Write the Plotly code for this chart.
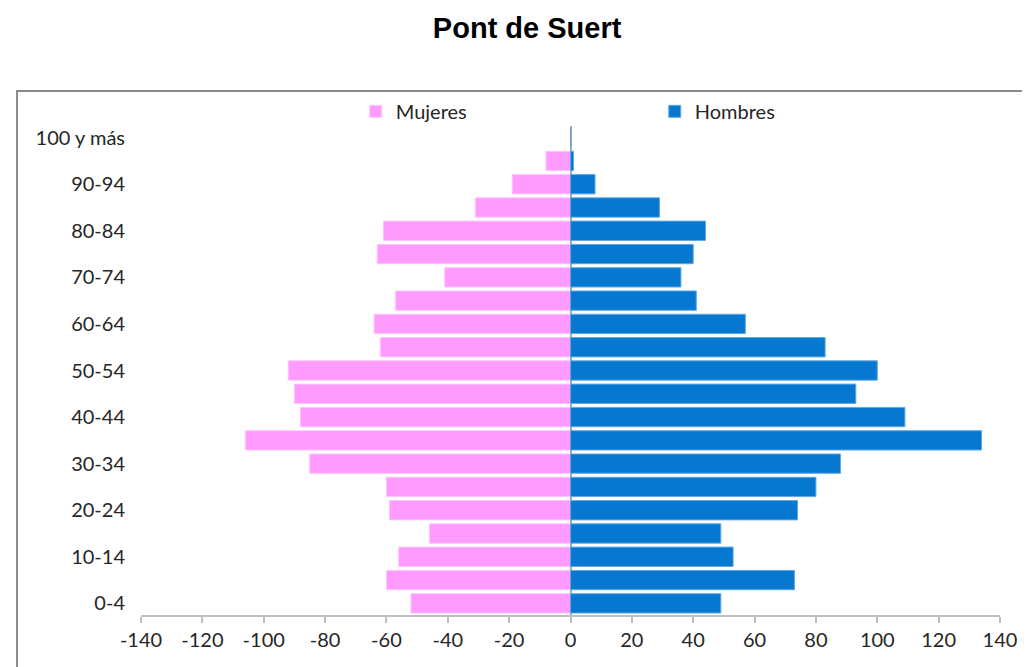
import plotly.graph_objects as go

age_groups = ["0-4", "5-9", "10-14", "15-19", "20-24", "25-29", "30-34", "35-39",
              "40-44", "45-49", "50-54", "55-59", "60-64", "65-69", "70-74", "75-79",
              "80-84", "85-89", "90-94", "95-99", "100 y más"]

mujeres = [52, 60, 56, 46, 59, 60, 85, 106, 88, 90, 92, 62, 64, 57, 41, 63, 61, 31, 19, 8, 0]
hombres = [49, 73, 53, 49, 74, 80, 88, 134, 109, 93, 100, 83, 57, 41, 36, 40, 44, 29, 8, 1, 0]

x_ticks = [-140, -120, -100, -80, -60, -40, -20, 0, 20, 40, 60, 80, 100, 120, 140]
x_tick_labels = [str(v) for v in x_ticks]

title_text = "Pont de Suert"

mujeres_neg = [-v for v in mujeres]

fig = go.Figure()
fig.add_trace(go.Bar(
    y=age_groups, x=mujeres_neg, orientation="h", name="Mujeres",
    marker=dict(color="#FF9BFF", line=dict(color="#FFC4FF", width=1)),
))
fig.add_trace(go.Bar(
    y=age_groups, x=hombres, orientation="h", name="Hombres",
    marker=dict(color="#0778CF", line=dict(color="#5FA8E6", width=1)),
))

tick_font = dict(family="Lato, 'Open Sans', sans-serif", size=20, color="#262626")

# page body has an 8px margin, so margins are compensated by 8px
fig.update_layout(
    width=1030, height=667,
    barmode="relative",
    bargap=0.17,
    paper_bgcolor="white",
    plot_bgcolor="white",
    margin=dict(l=133, r=38, t=118, b=60, autoexpand=False),
    title=dict(text="<b>" + title_text + "</b>", x=0.504, xanchor="center",
               y=0.970, yanchor="middle",
               font=dict(family="'Liberation Sans', Arial, sans-serif", size=29, color="black")),
    legend=dict(orientation="h", x=0.25, xanchor="left", y=1.03, yanchor="middle",
                entrywidth=254, entrywidthmode="pixels",
                font=dict(family="Lato, 'Open Sans', sans-serif", size=20, color="#262626"),
                bgcolor="rgba(0,0,0,0)", traceorder="normal"),
    showlegend=True,
    shapes=[dict(type="rect", xref="paper", yref="paper",
                 x0=-0.1443, x1=1.2, y0=-0.3, y1=1.0716,
                 line=dict(color="#8A8A8A", width=2), fillcolor="rgba(0,0,0,0)",
                 layer="below")],
)

fig.update_xaxes(
    range=[-140, 140],
    tickvals=x_ticks, ticktext=x_tick_labels,
    showgrid=False,
    showline=True, linecolor="#BFBFBF", linewidth=2,
    ticks="outside", ticklen=6, tickcolor="#BFBFBF", tickwidth=1.5,
    zeroline=True, zerolinecolor="#A6A6A6", zerolinewidth=2,
    tickfont=tick_font,
    ticklabelstandoff=0,
    automargin=False,
    fixedrange=True,
)
fig.update_yaxes(
    type="category",
    categoryorder="array", categoryarray=age_groups,
    range=[-0.5, len(age_groups) - 0.5],
    tickvals=age_groups[::2], ticktext=age_groups[::2],
    showgrid=False, showline=False, ticks="",
    tickfont=tick_font,
    ticklabelstandoff=15,
    automargin=False,
    fixedrange=True,
)

fig.write_html("out.html")
